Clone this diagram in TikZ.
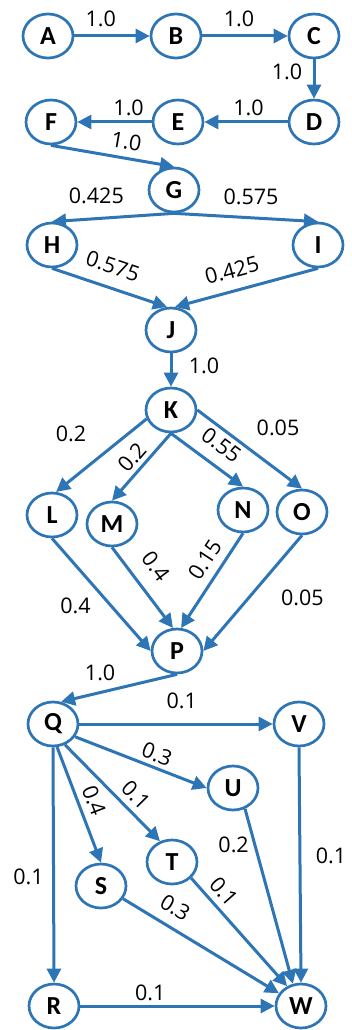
\documentclass[tikz,border=0pt]{standalone}
\usepackage{fontspec}
\setmainfont{Carlito}
\newfontfamily\lblfont{Open Sans}
\usepackage{tikz}
\usetikzlibrary{shapes.geometric}
\usetikzlibrary{arrows.meta,positioning}
\definecolor{mblue}{RGB}{46,117,182}
\tikzstyle{st}=[ellipse, draw=mblue, line width=2.7pt, inner sep=0pt, minimum width=50pt, minimum height=44pt, text=black, font=\bfseries\fontsize{26}{26}\selectfont]
\tikzstyle{pr}=[inner sep=1pt, text=black, font=\lblfont\fontsize{21.5}{21.5}\selectfont]

\begin{document}
\begin{tikzpicture}[->,>={Triangle[length=14pt,width=14pt]}, mblue, line width=3pt, on grid]
  \useasboundingbox (-48pt,36pt) rectangle (304pt,-994pt);
%
  \node[st] (A) {A};
  \node[st] (B) [right=128pt of A] {B};
  \node[st] (C) [right=138pt of B] {C};
  \node[st] (D) [below=86pt of C] {D};
  \node[st] (E) [left=136pt of D] {E};
  \node[st] (F) [left=127pt of E] {F};
%
  \path
  (A.east) edge node[pr, pos=.35, yshift=17pt] (pAB) {1.0} (B.west)
  (B.east) edge node[pr, pos=.43, yshift=17pt] (pBC) {1.0} (C.west)
  (C.south) edge node[pr, pos=.31, xshift=-27pt] (pCD) {1.0} (D.north)
  (D.west) edge node[pr, pos=.47, yshift=14pt] (pDE) {1.0} (E.east)
  (E.west) edge node[pr, pos=.31, yshift=14pt] (pEF) {1.0} (F.east);
%
  \node[st] (G) [below right=68pt and 123pt of F] {G};
  \node[st] (H) [below left=55pt and 122pt of G] {H};
  \node[st] (I) [below right=55pt and 144pt of G] {I};
  \node[st] (J) [below right=85pt and 119pt of H] {J};
  \node[st] (K) [below=80pt of J] {K};
%
  \path
  (F.south) edge node[pr, sloped, above=6pt, pos=.59] (pFG) {1.0} (G.north)
  (G.south) edge node[pr, pos=.62, xshift=-2pt, yshift=23pt] (pGH) {0.425} (H.north)
  (G.south) edge node[pr, pos=.535, yshift=21pt] (pGI) {0.575} (I.north)
  (H.south) edge node[pr, sloped, above=11pt, pos=.47] (pHJ) {0.575} (J.100)
  (I.south) edge node[pr, sloped, above=10pt, pos=.565] (pIJ) {0.425} (J.80)
  (J.south) edge node[pr, pos=.39, xshift=33pt] (pJK) {1.0} (K.north);
%
  \node[st] (L) [below left=105pt and 119pt of K] {L};
  \node[st] (M) [below left=114pt and 59pt of K] {M};
  \node[st] (N) [below right=100pt and 72pt of K] {N};
  \node[st] (O) [below right=102pt and 131pt of K] {O};
  \node[st] (P) [below right=241pt and 6pt of K] {P};
%
  \path
  (K.200) edge node[pr, pos=.58, xshift=-23pt, yshift=27pt] (pKL) {0.2} (L.80)
  (K.south) edge node[pr, sloped, above=3pt, pos=.49] (pKM) {0.2} (M.north)
  (K.south) edge node[pr, sloped, above=10pt, pos=.53] (pKN) {0.55} (N.north)
  (K.east) edge node[pr, pos=.57, xshift=21pt, yshift=27pt] (pKO) {0.05} (O.north)
  (L.south) edge node[pr, pos=.44, xshift=-20pt, yshift=-18pt] (pLP) {0.4} (P.west)
  (M.south) edge node[pr, sloped, above=13pt, pos=.41] (pMP) {0.4} (P.100)
  (N.south) edge node[pr, sloped, above=7pt, pos=.38] (pNP) {0.15} (P.80)
  (O.south) edge node[pr, pos=.31, xshift=31pt, yshift=-27pt] (pOP) {0.05} (P.east);
%
  \node[st] (Q) [below left=73pt and 124pt of P] {Q};
  \node[st] (V) [right=246pt of Q] {V};
  \node[st] (U) [below right=64pt and 180pt of Q] {U};
  \node[st] (T) [below right=138pt and 119pt of Q] {T};
  \node[st] (S) [below right=162pt and 48pt of Q] {S};
  \node[st] (R) [below right=282pt and 1pt of Q] {R};
  \node[st] (W) [right=247pt of R] {W};
%
  \path
  (P.south) edge node[pr, pos=.62, xshift=-5pt, yshift=19pt] (pPQ) {1.0} (Q.70)
  (Q.east) edge node[pr, pos=.53, yshift=23pt] (pQV) {0.1} (V.west)
  (Q.-30) edge node[pr, sloped, above=3pt, pos=.585] (pQU) {0.3} (U.west)
  (Q.-60) edge node[pr, sloped, above=5pt, pos=.63] (pQT) {0.1} (T.120)
  (Q.-80) edge node[pr, sloped, above=5pt, pos=.51] (pQS) {0.4} (S.north)
  (Q.south) edge node[pr, pos=.55, xshift=-25pt] (pQR) {0.1} (R.north)
  (V.south) edge node[pr, pos=.46, xshift=31pt] (pVW) {0.1} (W.north)
  (U.-60) edge node[pr, pos=.18, xshift=-20pt, yshift=-5pt] (pUW) {0.2} (W.110)
  (T.-40) edge node[pr, sloped, above=5pt, pos=.22] (pTW) {0.1} (W.125)
  (S.-30) edge node[pr, sloped, above=9pt, pos=.27] (pSW) {0.3} (W.150)
  (R.east) edge node[pr, pos=.36, yshift=13pt] (pRW) {0.1} (W.west);
\end{tikzpicture}
\end{document}
